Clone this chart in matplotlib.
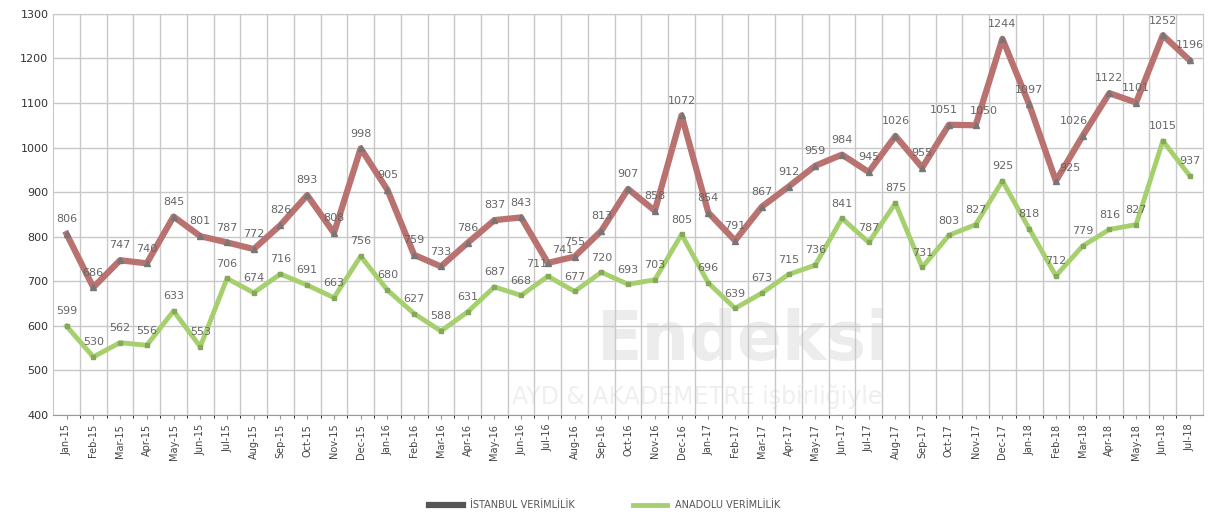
import matplotlib
matplotlib.use("Agg")
import matplotlib.pyplot as plt

# months Jan 15 .. Jul 18
months = ["Jan", "Feb", "Mar", "Apr", "May", "Jun", "Jul", "Aug", "Sep", "Oct", "Nov", "Dec"]
labels = []
for yr in ["15", "16", "17", "18"]:
    for m in months:
        labels.append(m + "-" + yr)
labels = labels[:43]

istanbul = [806, 686, 747, 740, 845, 801, 787, 772, 826, 893, 808, 998,
            905, 759, 733, 786, 837, 843, 741, 755, 813, 907, 858, 1072,
            854, 791, 867, 912, 959, 984, 945, 1026, 955, 1051, 1050, 1244,
            1097, 925, 1026, 1122, 1101, 1252, 1196]
anadolu = [599, 530, 562, 556, 633, 553, 706, 674, 716, 691, 663, 756,
           680, 627, 588, 631, 687, 668, 711, 677, 720, 693, 703, 805,
           696, 639, 673, 715, 736, 841, 787, 875, 731, 803, 827, 925,
           818, 712, 779, 816, 827, 1015, 937]

x = list(range(len(labels)))

fig = plt.figure(figsize=(12.09, 5.14), dpi=100)
ax = fig.add_axes([0.044, 0.193, 0.951, 0.780])

# watermark
ax.text(0.60, 0.185, "Endeksi", transform=ax.transAxes, fontsize=48, fontweight="bold",
        color="#ececec", ha="center", va="center", zorder=0)
ax.text(0.56, 0.045, "AYD & AKADEMETRE işbirliğiyle", transform=ax.transAxes, fontsize=17,
        color="#efefef", ha="center", va="center", zorder=0)

ax.plot(x, istanbul, color="#b9726f", lw=4.5, marker="^", ms=5, mfc="#777777",
        mec="#777777", label="İSTANBUL VERİMLİLİK", zorder=3)
ax.plot(x, anadolu, color="#a6d06e", lw=3.5, marker="s", ms=3.5, mfc="#86a85a",
        mec="#86a85a", label="ANADOLU VERİMLİLİK", zorder=3)

# a few labels nudged so they do not collide
ist_off = {18: (11, 6), 33: (-4, 7), 34: (6, 7), 37: (10, 6), 38: (-6, 7)}
ana_off = {18: (-8, 5)}
for i, v in enumerate(istanbul):
    off = ist_off.get(i, (0, 7))
    ax.annotate(str(v), (i, v), xytext=off, textcoords="offset points",
                ha="center", va="bottom", fontsize=8, color="#666666", zorder=4)
for i, v in enumerate(anadolu):
    off = ana_off.get(i, (0, 7))
    ax.annotate(str(v), (i, v), xytext=off, textcoords="offset points",
                ha="center", va="bottom", fontsize=8, color="#666666", zorder=4)

ax.set_xlim(-0.5, len(labels) - 0.5)
ax.set_ylim(400, 1300)
ax.set_yticks(range(400, 1301, 100))
ax.set_xticks(x)
ax.set_xticklabels(labels, rotation=90, fontsize=7, color="#444444")
ax.tick_params(axis="y", labelsize=8, colors="#333333", length=0)
ax.tick_params(axis="x", length=3, color="#999999")

ax.set_xticks([i + 0.5 for i in x[:-1]], minor=True)
ax.grid(True, which="minor", axis="x", color="#c8c8c8", lw=1.0)
ax.grid(True, which="major", axis="y", color="#c8c8c8", lw=1.0)
ax.set_axisbelow(True)
for s in ["top", "right"]:
    ax.spines[s].set_color("#c8c8c8")
ax.spines["left"].set_color("#c8c8c8")
ax.spines["bottom"].set_color("#999999")

leg = fig.legend(loc="lower center", bbox_to_anchor=(0.5, -0.01), ncol=2, frameon=False,
                 fontsize=7, handlelength=3.5, columnspacing=6, markerscale=0)
for t in leg.get_texts():
    t.set_color("#555555")
leg.legend_handles[0].set_color("#555555")

fig.savefig("out.png", dpi=100)
